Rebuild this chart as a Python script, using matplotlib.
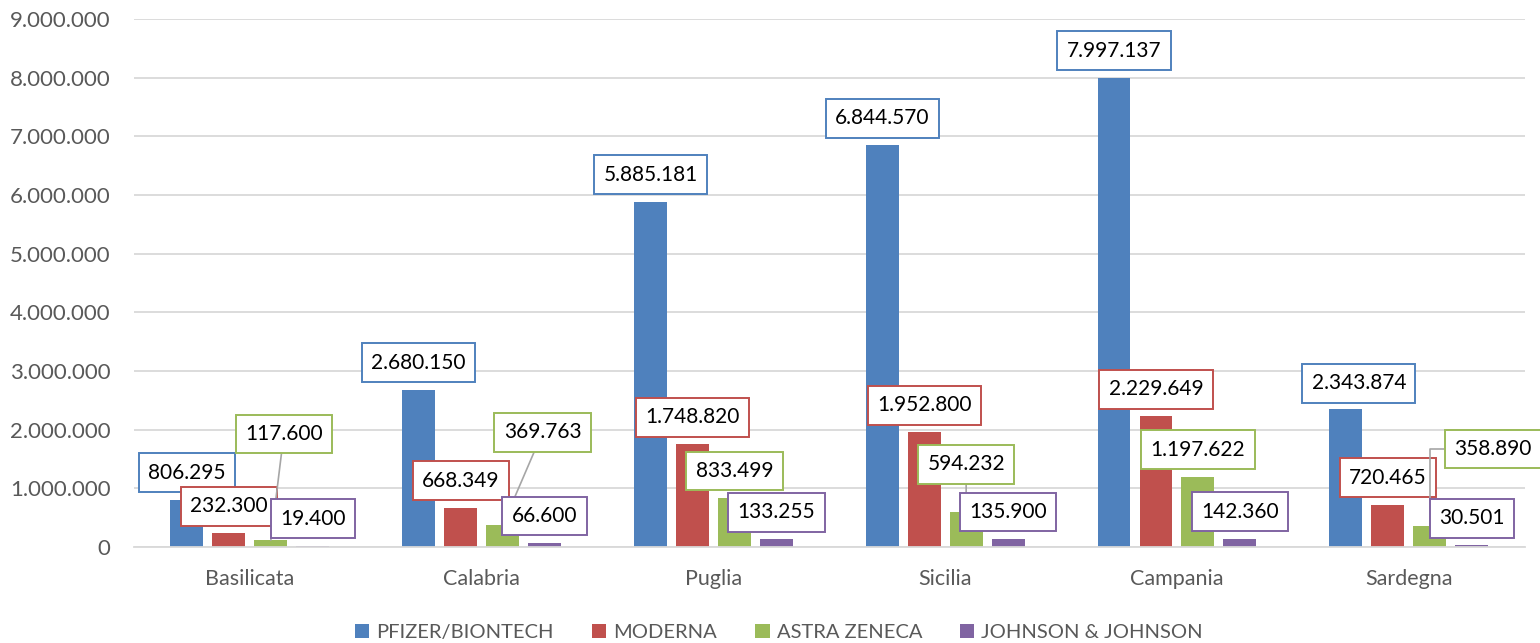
import matplotlib
matplotlib.use('Agg')
import matplotlib.pyplot as plt
import numpy as np

regions = ["Basilicata", "Calabria", "Puglia", "Sicilia", "Campania", "Sardegna"]
vaccines = ["PFIZER/BIONTECH", "MODERNA", "ASTRA ZENECA", "JOHNSON & JOHNSON"]

pfizer = [806295, 2680150, 5885181, 6844570, 7997137, 2343874]
moderna = [232300, 668349, 1748820, 1952800, 2229649, 720465]
astrazeneca = [117600, 369763, 833499, 594232, 1197622, 358890]
johnson = [19400, 66600, 133255, 135900, 142360, 30501]

series = [pfizer, moderna, astrazeneca, johnson]
colors = ["#4F81BD", "#C0504D", "#9BBB59", "#8064A2"]

plt.rcParams['font.family'] = ['Lato', 'DejaVu Sans']


def fmt(v):
    return f"{v:,}".replace(",", ".")


# label offsets in pixels from bar top (default sits just above the bar)
default_off = (0, 27)
special_off = {
    (2, 0): (13, 106),
    (2, 1): (40, 93),
    (2, 3): (0, 48),
    (0, 5): (13, 26),
    (2, 5): (63, 77),
}

fig = plt.figure(figsize=(15.4, 6.43), dpi=100)
ax = fig.add_axes([0.087, 0.1493, 0.903, 0.8212])

x = np.arange(len(regions))
pitch = 0.181
width = 0.142

for i, (vals, c, name) in enumerate(zip(series, colors, vaccines)):
    pos = x + (i - 1.5) * pitch
    ax.bar(pos, vals, width, color=c, label=name, zorder=2)
    for j, (px, v) in enumerate(zip(pos, vals)):
        off = special_off.get((i, j), default_off)
        arrow = None
        if (i, j) in special_off and off[1] > 40:
            conn = "angle,angleA=0,angleB=90,rad=0" if j == 5 else "arc3"
            arrow = dict(arrowstyle='-', color='#a6a6a6', lw=1.2,
                         shrinkA=0, shrinkB=0, connectionstyle=conn)
        ax.annotate(fmt(v), xy=(px, v), xytext=off, textcoords='offset pixels',
                    ha='center', va='center', fontsize=15, color='black',
                    bbox=dict(boxstyle='square,pad=0.45', fc='white', ec=c, lw=1.4),
                    arrowprops=arrow, zorder=4 + i)

ax.set_ylim(0, 9000000)
ax.set_xlim(-0.5, 5.5)
ax.set_yticks(np.arange(0, 9000001, 1000000))
ax.set_yticklabels([fmt(int(t)) for t in np.arange(0, 9000001, 1000000)])
ax.set_xticks(x)
ax.set_xticklabels(regions)
ax.tick_params(axis='y', length=0, pad=17, labelsize=16, labelcolor='#595959')
ax.tick_params(axis='x', length=0, pad=16, labelsize=15.5, labelcolor='#595959')
ax.grid(axis='y', color='#d9d9d9', lw=1.3, zorder=0)
ax.set_axisbelow(True)
for s in ['left', 'right', 'top']:
    ax.spines[s].set_visible(False)
ax.spines['bottom'].set_color('#d9d9d9')
ax.spines['bottom'].set_linewidth(1.3)

fig.legend(loc='center', bbox_to_anchor=(0.506, 0.017), ncol=4, frameon=False,
           fontsize=14.5, labelcolor='#595959', handlelength=0.7, handleheight=0.7,
           handletextpad=0.35, columnspacing=1.9, borderpad=0)

fig.savefig('out.png', dpi=100)
